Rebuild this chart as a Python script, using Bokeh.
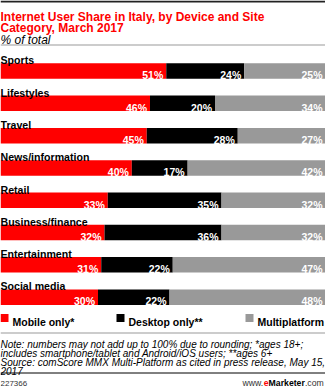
from bokeh.plotting import figure
from bokeh.models import Range1d, ColumnDataSource, Label, Span
from bokeh.core.properties import value
from bokeh.embed import file_html
from bokeh.resources import INLINE

categories = ["Sports", "Lifestyles", "Travel", "News/information", "Retail",
              "Business/finance", "Entertainment", "Social media"]
mobile_only = [51, 46, 45, 40, 33, 32, 31, 30]
desktop_only = [24, 20, 28, 17, 35, 36, 22, 22]
multiplatform = [25, 34, 27, 42, 32, 32, 47, 48]
series_names = ["Mobile only*", "Desktop only**", "Multiplatform"]
colors = ["#ff0000", "#000000", "#999999"]

title_lines = ["Internet User Share in Italy, by Device and Site",
               "Category, March 2017"]
subtitle = "% of total"
note_lines = ["Note: numbers may not add up to 100% due to rounding; *ages 18+;",
              "includes smartphone/tablet and Android/iOS users; **ages 6+",
              "Source: comScore MMX Multi-Platform as cited in press release, May 15,",
              "2017"]
chart_id = "227366"

W, H = 325, 387
FONT = "Liberation Sans"

p = figure(width=W, height=H, x_range=Range1d(0, 100), y_range=Range1d(H, 0),
           output_backend="svg", toolbar_location=None, min_border=0, title=None)
p.axis.visible = False
p.grid.visible = False
p.outline_line_color = None
p.background_fill_color = "white"
p.border_fill_color = "white"

row_top0, pitch, bar_h = 62.8, 32.3, 15.5
n = len(categories)
tops = [row_top0 + pitch * i for i in range(n)]
centers = [t + bar_h / 2 for t in tops]

series = [mobile_only, desktop_only, multiplatform]
totals = [sum(s[i] for s in series) for i in range(n)]
left = [0.0] * n
for k, s in enumerate(series):
    l = list(left)
    r = [left[i] + s[i] * 100.0 / totals[i] for i in range(n)]
    src = ColumnDataSource(dict(y=centers, left=l, right=r,
                                lab=[f"{v}%" for v in s],
                                ty=[t + 12 for t in tops]))
    p.hbar(y="y", left="left", right="right", height=bar_h, source=src,
           fill_color=colors[k], line_color=None)
    p.text(x="right", y="ty", text="lab", source=src, text_align="right",
           text_baseline="alphabetic", x_offset=-3, text_color="white",
           text_font=value(FONT), text_font_style="bold", text_font_size="10.5px")
    left = r

# category labels
csrc = ColumnDataSource(dict(x=[0] * n, y=[t - 3 for t in tops], t=categories))
p.text(x="x", y="y", text="t", source=csrc, text_baseline="alphabetic",
       text_color="#000000", text_font=value(FONT), text_font_style="bold",
       text_font_size="10.6px")

def lab(x, y, text, size="11px", color="#000000", style="normal", align="left"):
    p.add_layout(Label(x=x, y=y, x_units="screen", y_units="data", text=text,
                       text_font=FONT, text_font_size=size, text_color=color,
                       text_font_style=style, text_align=align,
                       text_baseline="alphabetic"))

# top rule
p.add_layout(Span(location=1, dimension="width", line_color="#222222", line_width=2))

lab(0, 16.5, title_lines[0], size="12px", color="#ff0000", style="bold")
lab(0, 27, title_lines[1], size="12px", color="#ff0000", style="bold")
lab(0, 39, subtitle, size="12px", color="#000000", style="italic")
p.add_layout(Span(location=44.5, dimension="width", line_color="#999999", line_width=1))

# legend
leg_x = [0, 116, 245]
px_per_unit = W / 100.0
for k, name in enumerate(series_names):
    p.scatter(x=[(leg_x[k] + 4) / px_per_unit], y=[317.5], marker="square", size=8,
              fill_color=colors[k], line_color=None)
    lab(leg_x[k] + 12, 321.5, name, size="10.5px", style="bold")

p.add_layout(Span(location=332.5, dimension="width", line_color="#999999", line_width=1))
for i, t in enumerate(note_lines):
    lab(0, 343.5 + 9 * i, t, size="10px", color="#000000", style="italic")

p.add_layout(Span(location=372.5, dimension="width", line_color="#000000", line_width=1))
lab(0, 382.5, chart_id, size="8px", color="#333333")
lab(242, 382.5, "www.", size="8.7px", color="#333333")
lab(263.3, 382.5, "e", size="8.7px", color="#ff0000", style="bold")
lab(268.1, 382.5, "Marketer", size="8.7px", color="#000000", style="bold")
lab(304.4, 382.5, ".com", size="8.7px", color="#333333")

open("out.html", "w").write(file_html(p, INLINE))
